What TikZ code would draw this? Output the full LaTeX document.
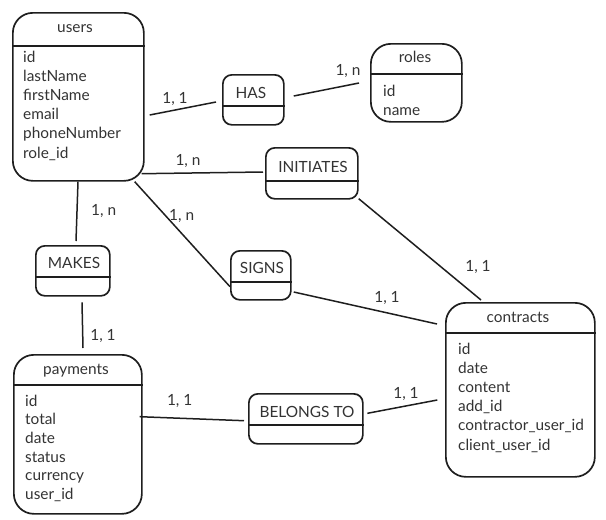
\documentclass[tikz,border=0pt]{standalone}
\usepackage{fontspec}
\setmainfont{Lato}
\definecolor{ink}{HTML}{1E1E1E}
\definecolor{txt}{HTML}{333333}
\begin{document}
\begin{tikzpicture}[x=1pt,y=-1pt,
  entity/.style={draw=ink,line width=1.7pt,rounded corners=20pt,inner sep=0pt,anchor=north west},
  relation/.style={draw=ink,line width=1.7pt,rounded corners=9pt,inner sep=0pt,anchor=north west},
  divider/.style={draw=ink,line width=1.7pt},
  link/.style={draw=ink,line width=1.5pt},
  lbl/.style={text=txt,inner sep=0pt,font=\fontsize{15.4}{19}\selectfont},
  ttl/.style={lbl,anchor=base},
  attr/.style={lbl,anchor=base west},
  card/.style={lbl,anchor=base}]
\useasboundingbox (0,0) rectangle (606,520);

% ---- entities ----
\node[entity,minimum width=131pt,minimum height=168pt] (users) at (12,12) {};
\node[entity,minimum width=91pt,minimum height=78pt] (roles) at (370,43) {};
\node[entity,minimum width=149pt,minimum height=174pt] (contracts) at (445,302) {};
\node[entity,minimum width=128pt,minimum height=159pt] (payments) at (13,354) {};

\draw[divider] ([yshift=-34pt]users.north west) -- ([yshift=-34pt]users.north east);
\draw[divider] ([yshift=-31pt]roles.north west) -- ([yshift=-31pt]roles.north east);
\draw[divider] ([yshift=-31pt]contracts.north west) -- ([yshift=-31pt]contracts.north east);
\draw[divider] ([yshift=-31pt]payments.north west) -- ([yshift=-31pt]payments.north east);

\node[ttl] (users-title) at (75,32) {users};
\node[ttl] (roles-title) at (415,62) {roles};
\node[ttl] (contracts-title) at (518,322) {contracts};
\node[ttl] (payments-title) at (76,374) {payments};

\foreach \a [count=\i from 0] in {id,lastName,firstName,email,phoneNumber,role\_id}
  \node[attr] (users-\i) at (23,62+19.2*\i) {\a};
\foreach \a [count=\i from 0] in {id,name}
  \node[attr] (roles-\i) at (383,96+19.2*\i) {\a};
\foreach \a [count=\i from 0] in {id,date,content,add\_id,contractor\_user\_id,client\_user\_id}
  \node[attr] (contracts-\i) at (458,354+19.2*\i) {\a};
\foreach \a [count=\i from 0] in {id,total,date,status,currency,user\_id}
  \node[attr] (payments-\i) at (25,406+18.7*\i) {\a};

% ---- relationships ----
\node[relation,minimum width=61pt,minimum height=50pt] (has) at (222,74) {};
\node[relation,minimum width=92pt,minimum height=51pt] (initiates) at (265,147) {};
\node[relation,minimum width=74pt,minimum height=50pt] (makes) at (35,245) {};
\node[relation,minimum width=60pt,minimum height=49pt] (signs) at (230,250) {};
\node[relation,minimum width=114pt,minimum height=50pt] (belongs) at (248,393) {};

\draw[divider] ([yshift=-32pt]has.north west) -- ([yshift=-32pt]has.north east);
\draw[divider] ([yshift=-34pt]initiates.north west) -- ([yshift=-34pt]initiates.north east);
\draw[divider] ([yshift=-32pt]makes.north west) -- ([yshift=-32pt]makes.north east);
\draw[divider] ([yshift=-32pt]signs.north west) -- ([yshift=-32pt]signs.north east);
\draw[divider] ([yshift=-32pt]belongs.north west) -- ([yshift=-32pt]belongs.north east);

\node[ttl] (has-title) at (251,98) {HAS};
\node[ttl] (initiates-title) at (313,172) {INITIATES};
\node[ttl] (makes-title) at (74,268) {MAKES};
\node[ttl] (signs-title) at (262,273) {SIGNS};
\node[ttl] (belongs-title) at (307,417) {BELONGS TO};

% ---- connectors ----
\draw[link] ([shift={(5,103)}]users.north east) -- ([shift={(-6,28)}]has.north west);
\draw[link] ([shift={(9,22)}]has.north east) -- ([shift={(-11,40)}]roles.north west);
\draw[link] ([shift={(-3,-8)}]users.south east) -- ([shift={(-2,25)}]initiates.north west);
\draw[link] ([shift={(0,-1)}]initiates.south east) -- ([shift={(36,-2)}]contracts.north west);
\draw[link] ([shift={(66,0)}]users.south west) -- ([shift={(41,-4)}]makes.north west);
\draw[link] ([shift={(47,5.7)}]makes.south west) -- ([shift={(70,-6)}]payments.north west);
\draw[link] ([shift={(-10,0)}]users.south east) -- ([shift={(0,36.7)}]signs.north west);
\draw[link] ([shift={(2,42)}]signs.north east) -- ([shift={(-8,22)}]contracts.north west);
\draw[link] ([shift={(-3,62.7)}]payments.north east) -- ([shift={(-4,27.7)}]belongs.north west);
\draw[link] ([shift={(3.7,20.3)}]belongs.north east) -- ([shift={(-7.7,98)}]contracts.north west);

% ---- cardinalities ----
\node[card] (c-users-has) at (175,103) {1, 1};
\node[card] (c-has-roles) at (348,75) {1, n};
\node[card] (c-users-init) at (188,165.7) {1, n};
\node[card] (c-init-contracts) at (478,271.7) {1, 1};
\node[card] (c-users-makes) at (103.7,215) {1, n};
\node[card] (c-makes-payments) at (103,340) {1, 1};
\node[card] (c-users-signs) at (181.7,220.7) {1, n};
\node[card] (c-signs-contracts) at (387,302.7) {1, 1};
\node[card] (c-payments-belongs) at (179.7,405.7) {1, 1};
\node[card] (c-belongs-contracts) at (406,398.3) {1, 1};
\end{tikzpicture}
\end{document}
